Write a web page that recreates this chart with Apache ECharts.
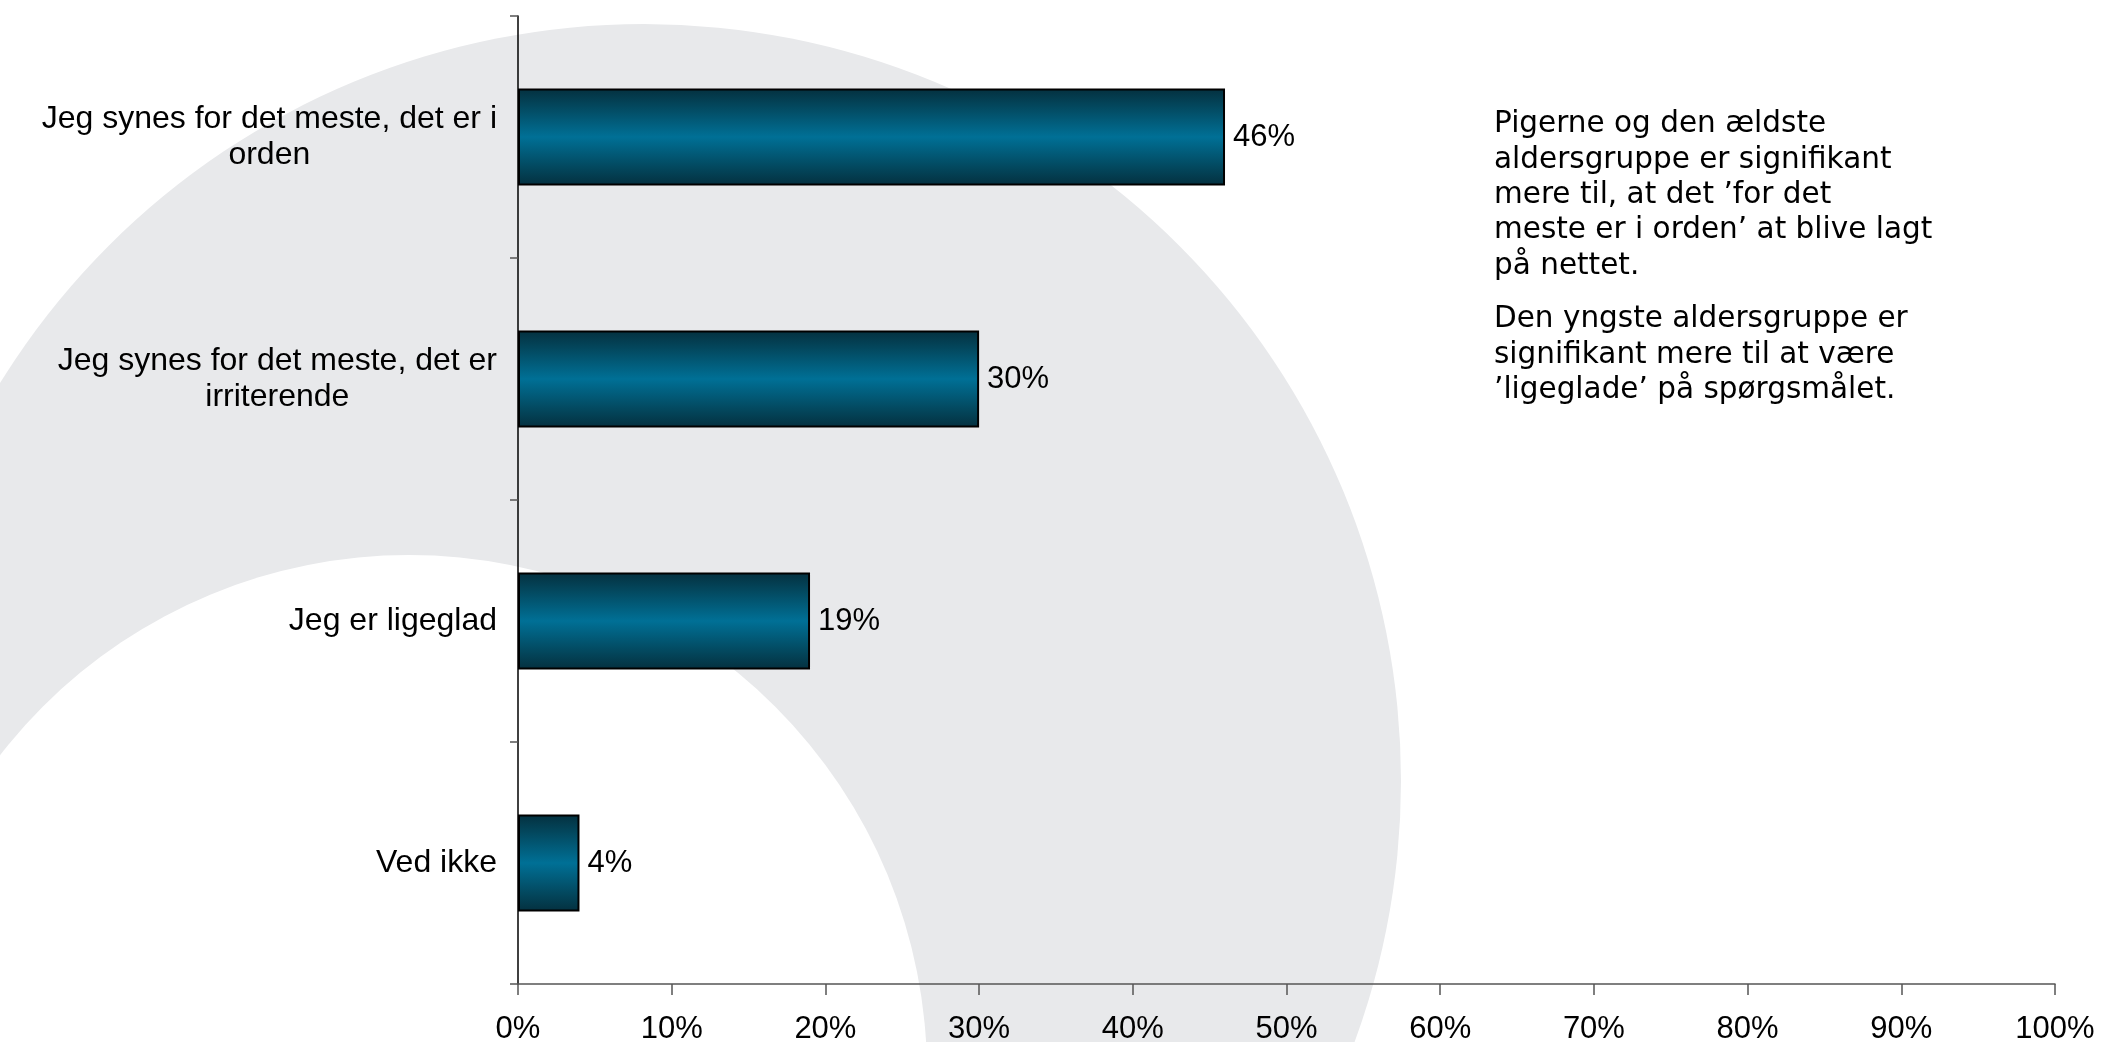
<!DOCTYPE html>
<html>
<head>
<meta charset="utf-8">
<script src="https://cdn.jsdelivr.net/npm/echarts@6/dist/echarts.min.js"></script>
<style>
html,body{margin:0;padding:0;background:#fff;}
#main{width:2105px;height:1042px;}
</style>
</head>
<body>
<div id="main"></div>
<script>
const categories = [
  "Jeg synes for det meste, det er i\norden",
  "Jeg synes for det meste, det er\nirriterende",
  "Jeg er ligeglad",
  "Ved ikke"
];
const values = [46, 30, 19, 4];
const xTicks = [0, 10, 20, 30, 40, 50, 60, 70, 80, 90, 100];
const note1 = "Pigerne og den ældste\naldersgruppe er signifikant\nmere til, at det ’for det\nmeste er i orden’ at blive lagt\npå nettet.";
const note2 = "Den yngste aldersgruppe er\nsignifikant mere til at være\n’ligeglade’ på spørgsmålet.";

const chart = echarts.init(document.getElementById('main'));
const barGrad = new echarts.graphic.LinearGradient(0, 0, 0, 1, [
  {offset: 0, color: '#04303f'},
  {offset: 0.18, color: '#03475d'},
  {offset: 0.5, color: '#007096'},
  {offset: 0.82, color: '#03475d'},
  {offset: 1, color: '#04303f'}
]);
const labelFont = '"Liberation Sans", Arial, sans-serif';
const noteFont = '29.5px "DejaVu Sans", Verdana, sans-serif';
chart.setOption({
  animation: false,
  backgroundColor: '#ffffff',
  graphic: [
    {type: 'circle', z: -100, silent: true, shape: {cx: 644, cy: 781, r: 757}, style: {fill: '#e8e9eb'}},
    {type: 'circle', z: -99, silent: true, shape: {cx: 409, cy: 1073, r: 518}, style: {fill: '#ffffff'}},
    {type: 'text', z: 10, left: 1494, top: 107, style: {text: note1, font: noteFont, lineHeight: 35.3, fill: '#000'}},
    {type: 'text', z: 10, left: 1494, top: 302, style: {text: note2, font: noteFont, lineHeight: 35.3, fill: '#000'}}
  ],
  grid: {left: 518, right: 50, top: 16, bottom: 58, containLabel: false, outerBoundsMode: 'none'},
  xAxis: {
    type: 'value', min: 0, max: 100, interval: 10,
    axisLine: {show: true, lineStyle: {color: '#555', width: 1.5}},
    axisTick: {show: true, length: 11, lineStyle: {color: '#555', width: 1.5}},
    splitLine: {show: false},
    axisLabel: {
      margin: 30, fontFamily: labelFont, fontSize: 31, color: '#000',
      formatter: v => xTicks.includes(v) ? v + '%' : ''
    }
  },
  yAxis: {
    type: 'category', data: categories, inverse: true,
    axisLine: {show: true, lineStyle: {color: '#000', width: 1.5}},
    axisTick: {show: true, length: 8, lineStyle: {color: '#555', width: 1.5}},
    axisLabel: {
      margin: 21, fontFamily: labelFont, fontSize: 32, color: '#000', lineHeight: 36,
      formatter: v => v.split('\n').map(s => '{c|' + s + '}').join('\n'),
      rich: {c: {align: 'center', fontFamily: labelFont, fontSize: 32, lineHeight: 36, color: '#000'}}
    }
  },
  series: [{
    type: 'bar', data: values, barWidth: '40%',
    itemStyle: {color: barGrad, borderColor: '#000', borderWidth: 2},
    label: {show: true, position: 'right', distance: 8, formatter: p => p.value + '%',
      fontFamily: labelFont, fontSize: 31, color: '#000'}
  }]
});
</script>
</body>
</html>
